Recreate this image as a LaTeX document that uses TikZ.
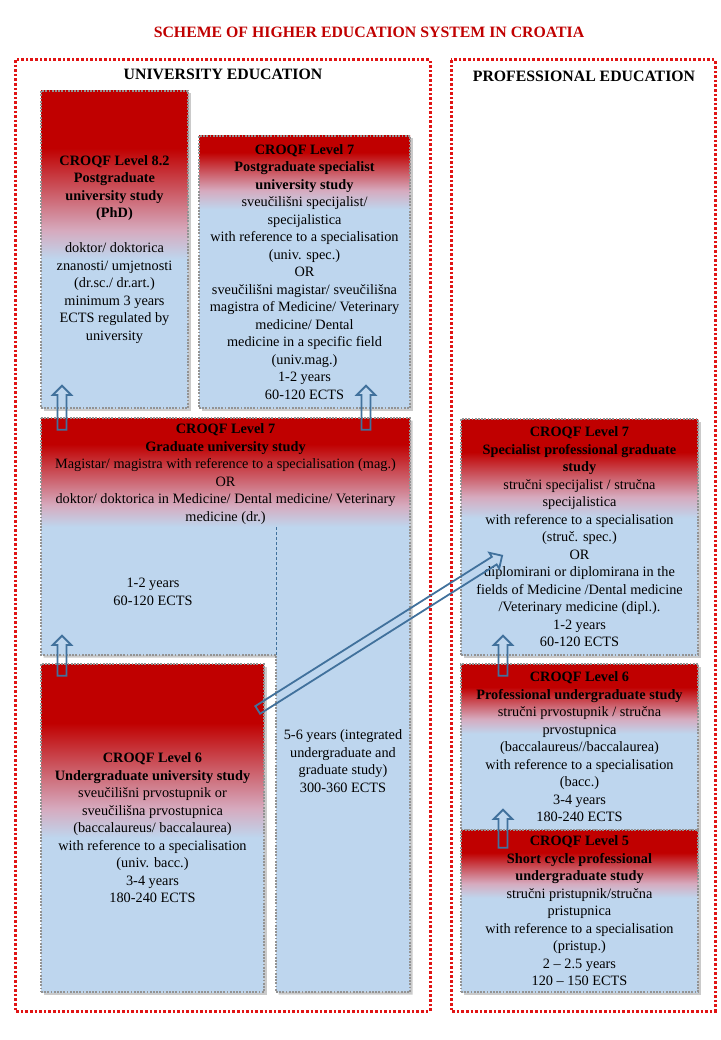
\documentclass[tikz,border=0pt]{standalone}
\usepackage{fontspec}
\setmainfont{Liberation Serif}
\usetikzlibrary{shapes.arrows, shadows}

\definecolor{crored}{RGB}{192,0,0}
\definecolor{dotred}{RGB}{225,20,20}
\definecolor{boxblue}{RGB}{190,214,238}
\definecolor{boxpink}{RGB}{214,170,190}
\definecolor{arrblue}{RGB}{65,113,156}

% red head fading into blue, at different depths
\pgfdeclareverticalshading{hdrtall}{100bp}{color(0bp)=(boxblue); color(48.5bp)=(boxblue); color(53bp)=(boxpink); color(66bp)=(crored); color(100bp)=(crored)}
\pgfdeclareverticalshading{hdrspec}{100bp}{color(0bp)=(boxblue); color(61.5bp)=(boxblue); color(65bp)=(boxpink); color(72bp)=(crored); color(100bp)=(crored)}
\pgfdeclareverticalshading{hdrmid}{100bp}{color(0bp)=(boxblue); color(54bp)=(boxblue); color(58.5bp)=(boxpink); color(68bp)=(crored); color(100bp)=(crored)}
\pgfdeclareverticalshading{hdrgrad}{100bp}{color(0bp)=(boxblue); color(25bp)=(boxblue); color(35bp)=(boxpink); color(63bp)=(crored); color(100bp)=(crored)}

\begin{document}
\begin{tikzpicture}[x=1pt, y=-1pt,
    txt/.style={font=\fontsize{14.3}{17.5}\selectfont, align=center, inner sep=1pt},
    boxshadow/.style={drop shadow={shadow xshift=2.5pt, shadow yshift=-2.5pt, opacity=0.35, fill=black!60}},
    rim/.style={draw=gray!85, line width=1.8pt, dash pattern=on 1.8pt off 1.4pt},
    box/.style={txt, rim, boxshadow, shade, shading=#1},
    area/.style={draw=dotred, line width=3pt, dash pattern=on 2.6pt off 2pt},
    head/.style={font=\fontsize{15.8}{19}\selectfont\bfseries},
    hollow/.style={single arrow, draw=arrblue, line width=1.8pt, inner xsep=0pt, inner ysep=3.6pt,
        single arrow head extend=4.8pt, single arrow head indent=0pt, midway, sloped, allow upside down}]

    \useasboundingbox (0,0) rectangle (720,1040);

    % Title and the two areas
    \node[head, text=crored] (title) at (369,32) {SCHEME OF HIGHER EDUCATION SYSTEM IN CROATIA};
    \draw[area] (15,60) rectangle (430,1011);
    \draw[area] (451,60) rectangle (715,1011);
    \node[head] (unihead) at (223,74) {UNIVERSITY EDUCATION};
    \node[head] (profhead) at (584,76) {PROFESSIONAL EDUCATION};

    % University education
    \node[box=hdrtall, minimum width=147pt, minimum height=317pt] (phd) at (114.5,249.5)
        {\textbf{CROQF Level 8.2}\\ \textbf{Postgraduate}\\ \textbf{university study}\\ \textbf{(PhD)}\\[17.5pt]
         doktor/ doktorica\\ znanosti/ umjetnosti\\ (dr.sc./ dr.art.)\\ minimum 3 years\\ ECTS regulated by\\ university};
    \node[box=hdrspec, minimum width=211pt, minimum height=272pt] (pgspec) at (304.5,272)
        {\textbf{CROQF Level 7}\\ \textbf{Postgraduate specialist}\\ \textbf{university study}\\
         sveučilišni specijalist/\\ specijalistica\\ with reference to a specialisation\\ (univ. spec.)\\ OR\\
         sveučilišni magistar/ sveučilišna\\ magistra of Medicine/ Veterinary\\ medicine/ Dental\\
         medicine in a specific field\\ (univ.mag.)\\ 1-2 years\\ 60-120 ECTS};

    % Graduate study with the integrated column
    \path[fill=boxblue, boxshadow] (41,418) -- (410,418) -- (410,992) -- (276,992) -- (276,655) -- (41,655) -- cycle;
    \shade[shading=hdrgrad] (41,418) rectangle (410,527);
    \draw[rim] (41,418) -- (410,418) -- (410,992) -- (276,992) -- (276,655) -- (41,655) -- cycle;
    \draw[arrblue, densely dashed, line width=0.8pt] (276,527) -- (276,655);
    \node[txt] (gradhead) at (225.5,474)
        {\textbf{CROQF Level 7}\\ \textbf{Graduate university study}\\
         Magistar/ magistra with reference to a specialisation (mag.)\\ OR\\
         doktor/ doktorica in Medicine/ Dental medicine/ Veterinary\\ medicine (dr.)};
    \node[txt] (gradyrs) at (153,592) {1-2 years\\ 60-120 ECTS};
    \node[txt] (integ) at (343,761) {5-6 years (integrated\\ undergraduate and\\ graduate study)\\ 300-360 ECTS};

    \node[box=hdrtall, minimum width=223pt, minimum height=328pt] (ugrad) at (152.5,828)
        {\textbf{CROQF Level 6}\\ \textbf{Undergraduate university study}\\ sveučilišni prvostupnik or\\
         sveučilišna prvostupnica\\ (baccalaureus/ baccalaurea)\\ with reference to a specialisation\\
         (univ. bacc.)\\ 3-4 years\\ 180-240 ECTS};

    % Professional education
    \node[box=hdrmid, minimum width=237pt, minimum height=236pt] (specprof) at (579.5,537)
        {\textbf{CROQF Level 7}\\ \textbf{Specialist professional graduate}\\ \textbf{study}\\
         stručni specijalist / stručna\\ specijalistica\\ with reference to a specialisation\\ (struč. spec.)\\ OR\\
         diplomirani or diplomirana in the\\ fields of Medicine /Dental medicine\\ /Veterinary medicine (dipl.).\\
         1-2 years\\ 60-120 ECTS};
    \node[box=hdrmid, minimum width=237pt, minimum height=166pt] (profug) at (579.5,747)
        {\textbf{CROQF Level 6}\\ \textbf{Professional undergraduate study}\\ stručni prvostupnik / stručna\\
         prvostupnica\\ (baccalaureus//baccalaurea)\\ with reference to a specialisation\\ (bacc.)\\
         3-4 years\\ 180-240 ECTS};
    \node[box=hdrmid, minimum width=237pt, minimum height=162pt] (shortc) at (579.5,911)
        {\textbf{CROQF Level 5}\\ \textbf{Short cycle professional}\\ \textbf{undergraduate study}\\
         stručni pristupnik/stručna\\ pristupnica\\ with reference to a specialisation\\ (pristup.)\\
         2 – 2.5 years\\ 120 – 150 ECTS};

    % Arrows
    \coordinate (gradup1) at (62,432);  \coordinate (phdin) at (62,388);
    \coordinate (gradup2) at (366,432); \coordinate (pgin) at (366,388);
    \coordinate (ugup) at (62,678);     \coordinate (gradin) at (62,638);
    \coordinate (ugdiag) at (256,711);  \coordinate (specin) at (500,557);
    \coordinate (profup) at (503,678);  \coordinate (specin2) at (503,638);
    \coordinate (shortup) at (503,850); \coordinate (profin) at (503,812);
    \path (gradup1) -- (phdin) node[hollow, minimum height=44pt] (a1) {};
    \path (gradup2) -- (pgin) node[hollow, minimum height=44pt] (a2) {};
    \path (ugup) -- (gradin) node[hollow, minimum height=40pt] (a3) {};
    \path (ugdiag) -- (specin) node[hollow, minimum height=289pt] (a4) {};
    \path (profup) -- (specin2) node[hollow, minimum height=40pt] (a5) {};
    \path (shortup) -- (profin) node[hollow, minimum height=38pt] (a6) {};
\end{tikzpicture}
\end{document}
